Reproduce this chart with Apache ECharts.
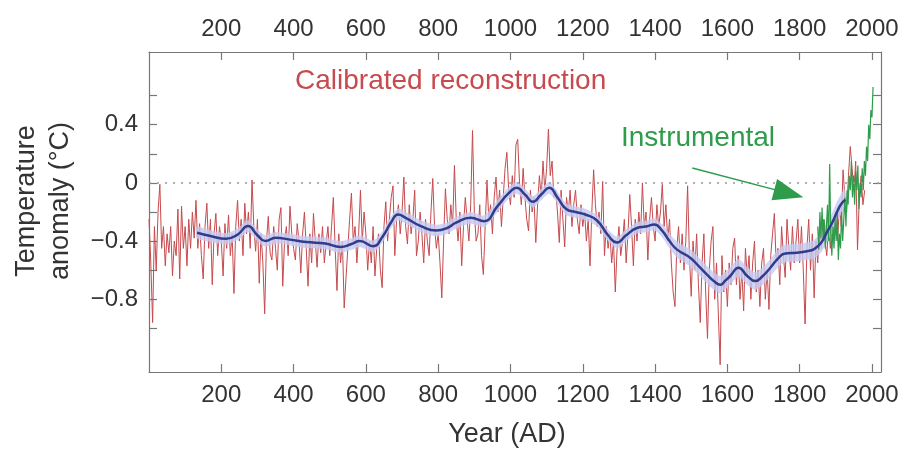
<!DOCTYPE html>
<html>
<head>
<meta charset="utf-8">
<script src="https://cdn.jsdelivr.net/npm/echarts@6/dist/echarts.min.js"></script>
<style>
html,body{margin:0;padding:0;background:#fff;}
#chart{width:904px;height:450px;}
</style>
</head>
<body>
<div id="chart"></div>
<script>
// ---------- DATA ----------
// Calibrated reconstruction, one value every 5 years starting at year 0
const reconStartYear = 0;
const reconStep = 5;
const reconstruction = [
  // 0-95
  -0.25,-0.55,-0.96,-0.30,-0.60,-0.20,-0.01,-0.45,-0.30,-0.57,-0.35,-0.48,-0.30,-0.64,-0.40,-0.50,-0.18,-0.66,-0.16,-0.45,
  // 100-195
  -0.30,-0.57,-0.25,-0.45,-0.20,-0.38,-0.12,-0.45,-0.28,-0.50,-0.66,-0.30,-0.14,-0.45,-0.25,-0.70,-0.35,-0.21,-0.50,-0.30,
  // 200-295
  -0.40,-0.64,-0.28,-0.45,-0.22,-0.50,-0.35,-0.76,-0.30,-0.12,-0.40,-0.25,-0.50,-0.14,-0.35,-0.20,-0.45,0.02,-0.30,-0.47,
  // 300-395
  -0.25,-0.69,-0.35,-0.55,-0.90,-0.40,-0.23,-0.48,-0.53,-0.30,-0.45,-0.60,-0.25,-0.17,-0.71,-0.40,-0.30,-0.50,-0.16,-0.35,
  // 400-495
  -0.45,-0.53,-0.28,-0.40,-0.62,-0.35,-0.20,-0.45,-0.71,-0.35,-0.55,-0.21,-0.40,-0.58,-0.35,-0.48,-0.30,-0.55,-0.42,-0.30,
  // 500-595
  -0.50,-0.30,-0.10,-0.45,-0.74,-0.35,-0.55,-0.40,-0.86,-0.85,-0.45,-0.25,-0.07,-0.40,-0.30,-0.55,-0.35,-0.05,-0.40,-0.20,
  // 600-695
  -0.35,-0.60,-0.40,-0.55,-0.30,-0.64,-0.45,-0.35,-0.60,-0.72,-0.30,-0.13,-0.40,-0.25,-0.10,-0.02,-0.50,-0.25,-0.15,-0.35,
  // 700-795
  -0.20,0.04,-0.30,-0.42,-0.15,-0.35,-0.25,-0.05,-0.50,-0.40,-0.20,-0.35,-0.55,-0.25,-0.40,-0.50,-0.20,0.03,-0.30,-0.45,
  // 800-895
  -0.35,-0.55,-0.79,-0.40,-0.04,-0.25,-0.35,-0.15,-0.30,0.12,-0.25,-0.40,-0.20,-0.57,-0.30,-0.10,-0.25,-0.40,-0.15,0.36,
  // 900-995
  -0.20,-0.40,-0.35,-0.15,-0.50,-0.63,-0.30,0.02,-0.25,-0.15,-0.35,-0.10,0.04,-0.20,-0.05,-0.30,-0.10,0.10,0.21,-0.05,
  // 1000-1095
  -0.15,0.05,-0.10,0.26,0.30,0.00,-0.15,0.10,-0.10,-0.25,-0.33,-0.05,-0.20,-0.10,-0.41,-0.15,0.05,-0.10,0.15,-0.05,
  // 1100-1195
  0.10,0.37,0.05,0.15,-0.10,-0.05,-0.20,-0.41,-0.05,-0.25,-0.44,-0.10,-0.20,-0.05,-0.30,-0.15,-0.05,-0.25,-0.35,-0.15,
  // 1200-1295
  -0.30,-0.20,-0.40,-0.25,-0.57,-0.20,0.09,-0.15,-0.30,-0.20,-0.35,0.01,-0.50,-0.30,-0.45,-0.35,-0.55,-0.40,-0.75,-0.45,
  // 1300-1395
  -0.30,-0.50,-0.40,-0.25,-0.55,-0.35,-0.08,-0.30,-0.57,-0.25,-0.40,-0.20,-0.35,0.00,-0.30,-0.20,-0.53,-0.25,-0.10,-0.30,
  // 1400-1495
  -0.40,-0.15,-0.30,-0.20,-0.01,-0.30,-0.15,-0.40,-0.25,-0.55,-0.75,-0.85,-0.45,-0.30,-0.55,-0.35,-0.60,-0.40,-0.02,-0.50,
  // 1500-1595
  -0.78,-0.40,-0.60,-0.35,-0.70,-0.96,-0.55,-0.35,-0.75,-1.07,-0.60,-0.40,-0.30,-0.80,-0.55,-0.90,-1.25,-0.50,-0.75,-0.60,
  // 1600-1695
  -0.85,-0.55,-0.70,-0.45,-0.38,-0.70,-0.50,-0.80,-0.60,-0.88,-0.45,-0.65,-0.50,-0.80,-0.55,-0.40,-0.75,-0.60,-0.85,-0.55,
  // 1700-1795
  -0.45,-0.80,-0.60,-0.87,-0.50,-0.35,-0.21,-0.55,-0.45,-0.70,-0.30,-0.50,-0.65,-0.25,-0.45,-0.60,-0.30,-0.55,-0.40,-0.25,
  // 1800-1895
  -0.55,-0.30,-0.60,-0.97,-0.45,-0.25,-0.60,-0.35,-0.79,-0.40,-0.55,-0.30,-0.45,-0.25,-0.40,-0.50,-0.30,-0.45,-0.25,-0.35,
  // 1900-1980
  -0.20,-0.40,-0.15,-0.30,0.09,-0.10,-0.20,0.05,0.25,0.10,-0.05,0.15,-0.46,-0.10,0.05,-0.15,-0.05
];

// Smoothed reconstruction (blue) and its uncertainty half-width (lavender band)
const smoothYears = [133,170,213,245,274,300,322,350,390,435,488,530,560,583,620,646,670,689,710,752,795,825,848,890,927,964,995,1017,1040,1062,1085,1107,1130,1154,1180,1207,1240,1270,1295,1320,1350,1375,1398,1420,1440,1460,1497,1520,1543,1565,1580,1595,1608,1631,1655,1677,1698,1719,1740,1760,1792,1820,1840,1860,1875,1890,1905,1915,1926];
const smoothValues = [-0.343,-0.365,-0.384,-0.355,-0.297,-0.36,-0.40,-0.377,-0.39,-0.407,-0.416,-0.44,-0.42,-0.40,-0.435,-0.37,-0.27,-0.217,-0.24,-0.297,-0.327,-0.31,-0.275,-0.24,-0.263,-0.16,-0.07,-0.034,-0.08,-0.13,-0.08,-0.034,-0.10,-0.18,-0.20,-0.217,-0.26,-0.36,-0.41,-0.36,-0.31,-0.30,-0.286,-0.33,-0.40,-0.457,-0.514,-0.57,-0.629,-0.68,-0.70,-0.67,-0.64,-0.583,-0.64,-0.675,-0.64,-0.583,-0.52,-0.485,-0.48,-0.47,-0.455,-0.41,-0.34,-0.274,-0.19,-0.145,-0.115];
const bandHalfWidth = [0.04,0.04,0.04,0.04,0.04,0.04,0.04,0.04,0.04,0.04,0.04,0.04,0.04,0.04,0.04,0.04,0.04,0.04,0.04,0.04,0.04,0.04,0.04,0.04,0.04,0.04,0.04,0.04,0.04,0.04,0.04,0.04,0.04,0.04,0.04,0.04,0.04,0.04,0.04,0.04,0.04,0.04,0.04,0.045,0.05,0.055,0.06,0.06,0.06,0.06,0.06,0.06,0.06,0.06,0.06,0.06,0.06,0.06,0.06,0.06,0.06,0.06,0.065,0.065,0.07,0.07,0.07,0.07,0.07];

// Instrumental record (green)
const instYears = [1850,1853,1856,1859,1862,1865,1868,1871,1874,1877,1880,1883,1886,1889,1892,1895,1898,1901,1904,1907,1910,1913,1916,1919,1922,1925,1928,1931,1934,1937,1940,1943,1946,1949,1952,1955,1958,1961,1964,1967,1970,1973,1976,1979,1982,1985,1988,1991,1994,1997,2000,2003];
const instValues = [-0.30,-0.46,-0.20,-0.38,-0.17,-0.40,-0.25,-0.45,-0.30,-0.15,-0.40,0.13,-0.35,-0.50,-0.30,-0.45,-0.25,-0.40,-0.20,-0.53,-0.35,-0.45,-0.20,-0.40,-0.25,-0.10,-0.30,-0.05,-0.15,0.05,-0.05,0.15,-0.10,0.05,-0.15,0.08,-0.05,0.12,-0.18,0.00,-0.10,0.10,-0.05,0.15,0.05,0.25,0.15,0.40,0.30,0.50,0.45,0.66];

// Axis ticks and labels
const xTickValues = [200,400,600,800,1000,1200,1400,1600,1800,2000];
const yTickValues = [-1.0,-0.8,-0.6,-0.4,-0.2,0,0.2,0.4,0.6];
const yLabelValues = [-0.8,-0.4,0,0.4];

// ---------- BUILD ----------
const FONT = "'Liberation Sans', Arial, Helvetica, sans-serif";
const RED = '#c64a4e';
const GREEN = '#2f9c4c';
const BLUE = '#2f3d8e';
const AXIS = '#777';
const TEXT = '#333';

const reconData = reconstruction.map((v, i) => [reconStartYear + i * reconStep, v]);
const smoothData = smoothYears.map((y, i) => [y, smoothValues[i]]);
const bandData = smoothYears.map((y, i) => [y, smoothValues[i] - bandHalfWidth[i], smoothValues[i] + bandHalfWidth[i]]);
const instData = instYears.map((y, i) => [y, instValues[i]]);

function fmtY(v) {
  if (Math.abs(v) < 1e-9) return '0';
  const s = Math.abs(v).toFixed(1);
  return v < 0 ? '\u2212' + s : s;
}

function xAxisDef(pos) {
  return {
    type: 'value', position: pos, min: 0, max: 2025,
    axisLine: { show: true, onZero: false, lineStyle: { color: AXIS, width: 1.2 } },
    axisTick: { show: true, inside: true, length: 8, customValues: xTickValues, lineStyle: { color: AXIS, width: 1.2 } },
    axisLabel: { show: true, customValues: xTickValues, fontSize: 24, color: TEXT, fontFamily: FONT, margin: 11,
      formatter: function (v) { return String(v); } },
    splitLine: { show: false }
  };
}
function yAxisDef(pos, labels) {
  return {
    type: 'value', position: pos, min: -1.3, max: 0.9,
    axisLine: { show: true, onZero: false, lineStyle: { color: AXIS, width: 1.2 } },
    axisTick: { show: true, inside: true, length: 8, customValues: yTickValues, lineStyle: { color: AXIS, width: 1.2 } },
    axisLabel: { show: labels, customValues: yLabelValues, fontSize: 24, color: TEXT, fontFamily: FONT, margin: 11, formatter: fmtY },
    splitLine: { show: false }
  };
}

const chart = echarts.init(document.getElementById('chart'), null, { renderer: 'canvas' });
chart.setOption({
  animation: false,
  backgroundColor: '#fff',
  grid: { left: 149, right: 23, top: 52, bottom: 78, outerBoundsMode: 'none' },
  xAxis: [xAxisDef('bottom'), xAxisDef('top')],
  yAxis: [yAxisDef('left', true), yAxisDef('right', false)],
  series: [
    {
      name: 'Calibrated reconstruction', type: 'line', data: reconData,
      symbol: 'none', lineStyle: { color: RED, width: 1 }, z: 2,
      markLine: {
        silent: true, symbol: ['none', 'none'], label: { show: false },
        lineStyle: { color: '#999', type: [2, 6], width: 1.5 },
        data: [{ yAxis: 0 }]
      }
    },
    {
      name: 'Uncertainty', type: 'custom', data: bandData, silent: true, z: 3,
      encode: { x: 0, y: [1, 2] },
      renderItem: function (params, api) {
        if (params.dataIndex !== 0) return;
        const upper = bandData.map(d => api.coord([d[0], d[2]]));
        const lower = bandData.map(d => api.coord([d[0], d[1]])).reverse();
        return {
          type: 'polygon',
          shape: { points: upper.concat(lower), smooth: 0.25 },
          style: { fill: '#c6caf0', opacity: 0.8 }
        };
      }
    },
    {
      name: 'Instrumental', type: 'line', data: instData,
      symbol: 'none', lineStyle: { color: GREEN, width: 1.2 }, z: 4,
      markLine: {
        silent: true, symbol: ['none', 'triangle'], symbolSize: [22, 30], label: { show: false },
        lineStyle: { color: GREEN, width: 1.5, type: 'solid' },
        data: [[{ coord: [1503, 0.102] }, { coord: [1770, -0.072] }]]
      }
    },
    {
      name: 'Smoothed', type: 'line', data: smoothData,
      symbol: 'none', smooth: true, lineStyle: { color: BLUE, width: 2.5 }, z: 5
    }
  ],
  graphic: [
    { type: 'text', left: 295, top: 67, style: { text: 'Calibrated reconstruction', fontSize: 28, fontFamily: FONT, fill: RED } },
    { type: 'text', left: 621, top: 124, style: { text: 'Instrumental', fontSize: 28, fontFamily: FONT, fill: GREEN } },
    { type: 'text', x: 44, y: 201, rotation: Math.PI / 2,
      style: { text: 'Temperature\nanomaly (\u00B0C)', fontSize: 27, lineHeight: 34, fontFamily: FONT, fill: TEXT, align: 'center', verticalAlign: 'middle' } },
    { type: 'text', x: 507, y: 435,
      style: { text: 'Year (AD)', fontSize: 27, fontFamily: FONT, fill: TEXT, align: 'center', verticalAlign: 'middle' } }
  ]
});
</script>
</body>
</html>
